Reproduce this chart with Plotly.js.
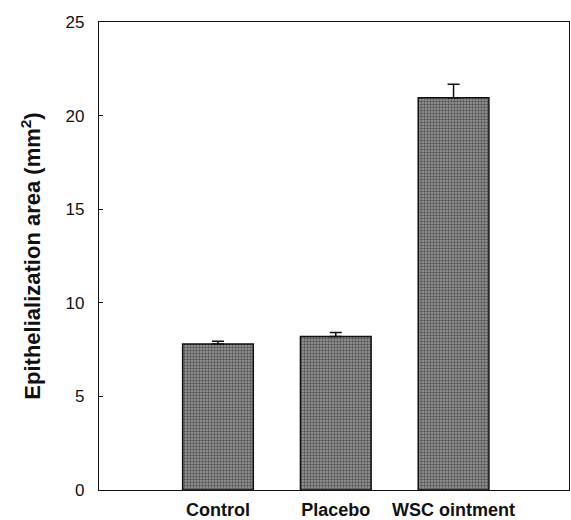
<!DOCTYPE html>
<html>
<head>
<meta charset="utf-8">
<script src="https://cdn.plot.ly/plotly-3.0.1.min.js"></script>
<style>html,body{margin:0;padding:0;background:#fff}#chart{width:571px;height:520px}</style>
</head>
<body>
<div id="chart"></div>
<script>
const categories = ["Control", "Placebo", "WSC ointment"];
const values = [7.8, 8.2, 20.95];
const errors = [0.15, 0.22, 0.72];
const yTicks = [0, 5, 10, 15, 20, 25];

const trace = {
  type: "bar",
  x: categories,
  y: values,
  width: 0.6,
  marker: {
    color: "#8a8a8a",
    line: {color: "#111", width: 1.5},
    pattern: {shape: ".", fgcolor: "#555", bgcolor: "#9c9c9c", size: 3, solidity: 0.5}
  },
  error_y: {type: "data", array: errors, arrayminus: values.map(() => 0), symmetric: false,
            color: "#111", thickness: 1.5, width: 6},
  hoverinfo: "skip"
};

const font = {family: "Liberation Sans, Arial, sans-serif", color: "#111", size: 17};

const layout = {
  width: 571, height: 520,
  margin: {l: 99, r: 2, t: 22, b: 30},
  paper_bgcolor: "#fff", plot_bgcolor: "#fff",
  showlegend: false,
  font: font,
  bargap: 0.4,
  xaxis: {
    type: "category",
    range: [-1.01, 2.98],
    showline: true, linecolor: "#111", linewidth: 1.2, mirror: true,
    ticks: "", showgrid: false, zeroline: false,
    tickfont: {family: font.family, size: 18, color: "#111", weight: "bold"},
    ticklabelstandoff: 3
  },
  yaxis: {
    range: [0, 25],
    tickvals: yTicks,
    ticktext: yTicks.map(String),
    showline: true, linecolor: "#111", linewidth: 1.2, mirror: true,
    ticks: "inside", ticklen: 4, tickcolor: "#111",
    showgrid: false, zeroline: false,
    tickfont: {family: font.family, size: 17, color: "#111"},
    ticklabelstandoff: 10,
    title: {text: "Epithelialization area (mm<sup>2</sup>)",
            font: {family: font.family, size: 22, color: "#111", weight: "bold"},
            standoff: 18}
  }
};

Plotly.newPlot("chart", [trace], layout, {staticPlot: true, displayModeBar: false});
</script>
</body>
</html>
